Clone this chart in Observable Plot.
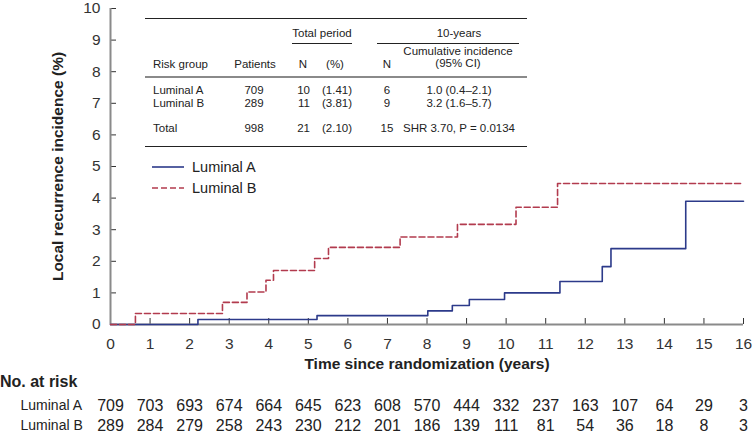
<!DOCTYPE html>
<html><head><meta charset="utf-8">
<script src="https://cdn.jsdelivr.net/npm/d3@7"></script>
<script src="https://cdn.jsdelivr.net/npm/@observablehq/plot@0.6"></script>
<style>
body{margin:0;background:#fff;}
#wrap{position:relative;width:753px;height:433px;overflow:hidden;font-family:"Liberation Sans",Arial,Helvetica,sans-serif;color:#222;}
.t{position:absolute;white-space:nowrap;line-height:1;}
.r{position:absolute;height:0;}
#main,#risk{position:absolute;left:0;}
#main{top:0;} #risk{top:394px;}
</style></head><body><div id="wrap"><div id="main"></div><div id="risk"></div></div>
<script>
// ---- data ----
const groups = ["Luminal A", "Luminal B"];
const timeA = [0, 2.21, 5.22, 8.02, 8.64, 9.07, 9.96, 11.36, 12.43, 12.65, 14.54, 16];
const incA  = [0, 0.16, 0.28, 0.43, 0.60, 0.79, 1.00, 1.36, 1.83, 2.40, 3.90, 3.90];
const timeB = [0, 0.63, 2.83, 3.45, 3.93, 4.12, 5.16, 5.51, 7.32, 8.77, 10.25, 11.30, 16];
const incB  = [0, 0.35, 0.70, 1.03, 1.40, 1.71, 2.09, 2.44, 2.77, 3.17, 3.71, 4.46, 4.46];
const xTicks = [0,1,2,3,4,5,6,7,8,9,10,11,12,13,14,15,16];
const yTicks = [0,1,2,3,4,5,6,7,8,9,10];
const riskA = [709,703,693,674,664,645,623,608,570,444,332,237,163,107,64,29,3];
const riskB = [289,284,279,258,243,230,212,201,186,139,111,81,54,36,18,8,3];
const xTitle = "Time since randomization (years)";
const yTitle = "Local recurrence incidence (%)";
const tableGroups = ["Luminal A", "Luminal B", "Total"];
const tablePatients = ["709", "289", "998"];
const tableTotalN = ["10", "11", "21"];
const tableTotalPct = ["(1.41)", "(3.81)", "(2.10)"];
const table10N = ["6", "9", "15"];
const table10CI = ["1.0 (0.4–2.1)", "3.2 (1.6–5.7)", "SHR 3.70, P = 0.0134"];

const colA = "#2c3a8a", colB = "#b23b4e";
const curveA = timeA.map((t, i) => ({t, v: incA[i]}));
const curveB = timeB.map((t, i) => ({t, v: incB[i]}));
const riskRows = [];
xTicks.forEach((t, i) => { riskRows.push({t, g: groups[0], n: riskA[i]}); riskRows.push({t, g: groups[1], n: riskB[i]}); });

const font = "Liberation Sans, Arial, Helvetica, sans-serif";
const main = Plot.plot({
  width: 753, height: 380, marginLeft: 110, marginRight: 10, marginTop: 8, marginBottom: 56,
  style: {fontFamily: font, fontSize: "15.5px", color: "#222", background: "transparent", overflow: "visible"},
  x: {domain: [0, 16]},
  y: {domain: [0, 10]},
  marks: [
    Plot.axisX(xTicks, {tickSize: -6, tickPadding: 19, color: "#333", fontSize: 15.5, label: null}),
    Plot.axisY(yTicks, {tickSize: -6, tickPadding: 16, color: "#333", fontSize: 15.5, label: null}),
    Plot.ruleY([0], {stroke: "#8a8a8a", strokeWidth: 2}),
    Plot.ruleX([0], {stroke: "#8a8a8a", strokeWidth: 2}),
    Plot.line(curveA, {x: "t", y: "v", curve: "step-after", stroke: colA, strokeWidth: 1.6}),
    Plot.line(curveB, {x: "t", y: "v", curve: "step-after", stroke: colB, strokeWidth: 1.6, strokeDasharray: "6,3"}),
    Plot.text([xTitle], {text: d => d, frameAnchor: "bottom", dy: 44, fontWeight: "bold", fontSize: 15.5, fill: "#222"}),
    Plot.text([yTitle], {text: d => d, frameAnchor: "left", dx: -52, rotate: -90, textAnchor: "middle", fontWeight: "bold", fontSize: 15.5, fill: "#222"})
  ]
});
document.getElementById("main").appendChild(main);

const risk = Plot.plot({
  width: 753, height: 39, marginLeft: 110, marginRight: 10, marginTop: 0, marginBottom: 0,
  style: {fontFamily: font, color: "#222", background: "transparent", overflow: "visible"},
  x: {domain: [0, 16], axis: null},
  y: {type: "point", domain: groups, range: [11, 31.5], padding: 0, axis: null},
  marks: [
    Plot.text(riskRows, {x: "t", y: "g", text: "n", fontSize: 16, fill: "#222"}),
    Plot.text(groups, {y: d => d, text: d => d, frameAnchor: "left", dx: -90, textAnchor: "start", fontSize: 14, fill: "#222"})
  ]
});
document.getElementById("risk").appendChild(risk);

// ---- HTML overlays ----
const wrap = document.getElementById("wrap");
function txt(s, x, y, anchor, size, extra) {
  const d = document.createElement("div");
  d.className = "t";
  d.textContent = s;
  const tx = anchor === "middle" ? "-50%" : anchor === "end" ? "-100%" : "0";
  d.style.left = x + "px"; d.style.top = y + "px";
  d.style.fontSize = size + "px";
  d.style.transform = `translate(${tx},-50%)`;
  if (extra) Object.assign(d.style, extra);
  wrap.appendChild(d);
}
function rule(x1, x2, y, w, c) {
  const d = document.createElement("div");
  d.className = "r";
  d.style.left = x1 + "px"; d.style.width = (x2 - x1) + "px";
  d.style.top = (y - w / 2) + "px"; d.style.borderTop = `${w}px solid ${c}`;
  wrap.appendChild(d);
}
// inset table
const fs = 11.5;
rule(145, 527, 18, 1, "#222");
txt("Total period", 322, 34, "middle", fs);
rule(292, 352, 43, 1, "#222");
txt("10-years", 459, 34, "middle", fs);
rule(377, 519, 43, 1, "#222");
txt("Cumulative incidence", 458, 52, "middle", fs);
txt("(95% CI)", 458, 64, "middle", fs);
txt("Risk group", 153, 65, "start", fs);
txt("Patients", 255, 65, "middle", fs);
txt("N", 303, 65, "middle", fs);
txt("(%)", 335, 65, "middle", fs);
txt("N", 387, 65, "middle", fs);
rule(145, 527, 76.5, 2, "#8a8a8a");
const rowY = [91, 104, 129];
tableGroups.forEach((g, i) => {
  txt(g, 153, rowY[i], "start", fs);
  txt(tablePatients[i], 254, rowY[i], "middle", fs);
  txt(tableTotalN[i], 310, rowY[i], "end", fs);
  txt(tableTotalPct[i], 322, rowY[i], "start", fs);
  txt(table10N[i], 387, rowY[i], "middle", fs);
  txt(table10CI[i], 459, rowY[i], "middle", fs);
});
rule(145, 527, 146, 1, "#222");

// legend
const legY = [167, 188];
const legColors = [colA, colB];
groups.forEach((g, i) => {
  const s = document.createElementNS("http://www.w3.org/2000/svg", "svg");
  s.setAttribute("width", 34); s.setAttribute("height", 6);
  s.style.position = "absolute"; s.style.left = "151px"; s.style.top = (legY[i] - 3) + "px";
  const l = document.createElementNS("http://www.w3.org/2000/svg", "line");
  l.setAttribute("x1", 1); l.setAttribute("x2", 33); l.setAttribute("y1", 3); l.setAttribute("y2", 3);
  l.setAttribute("stroke", legColors[i]); l.setAttribute("stroke-width", 1.6);
  if (i === 1) l.setAttribute("stroke-dasharray", "6,3");
  s.appendChild(l); wrap.appendChild(s);
  txt(g, 192, legY[i], "start", 14.5);
});

// risk table heading
txt("No. at risk", 0, 382, "start", 16, {fontWeight: "bold"});
</script></body></html>
